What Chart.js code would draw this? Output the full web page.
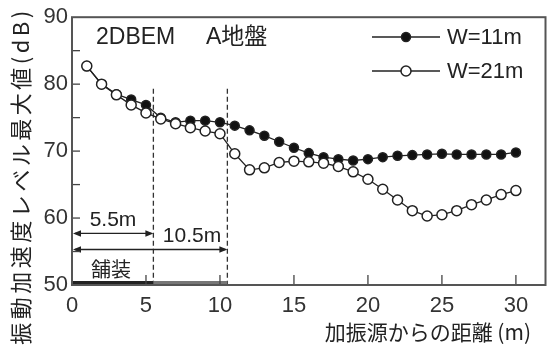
<!DOCTYPE html>
<html><head><meta charset="utf-8">
<script src="https://cdn.jsdelivr.net/npm/chart.js@4/dist/chart.umd.min.js"></script>
<style>html,body{margin:0;padding:0;background:#fff}canvas{display:block}</style>
</head><body>
<canvas id="c" width="552" height="346"></canvas>
<script>
const distances = [1,2,3,4,5,6,7,8,9,10,11,12,13,14,15,16,17,18,19,20,21,22,23,24,25,26,27,28,29,30];
const w11 = [82.7,80.0,78.5,77.7,76.9,75.0,74.3,74.55,74.55,74.3,73.8,73.1,72.3,71.4,70.5,69.7,69.1,68.8,68.6,68.8,69.1,69.3,69.4,69.5,69.6,69.5,69.5,69.5,69.5,69.8];
const w21 = [82.7,80.0,78.4,76.9,75.7,74.8,74.1,73.5,73.0,72.6,69.6,67.2,67.5,68.3,68.5,68.4,68.2,67.7,66.9,65.8,64.3,62.7,61.1,60.3,60.5,61.1,62.0,62.7,63.5,64.1];
const seriesNames = ['W=11m','W=21m'];
const xTickValues = [0,5,10,15,20,25,30];
const yTickValues = [50,60,70,80,90];
const boundaries = [5.5, 10.5];
const yTitle = '振動加速度レベル最大値(dB)';
const xTitle = '加振源からの距離 (m)';

const INK = '#222';
const LAT = '"Liberation Sans", Arial, sans-serif';
const CJK = '"Liberation Sans", "Noto Sans CJK JP", sans-serif';

function arrow(ctx, x1, x2, y){
  ctx.beginPath(); ctx.moveTo(x1+2, y); ctx.lineTo(x2-2, y); ctx.stroke();
  const L = 8, H = 3.2;
  ctx.beginPath(); ctx.moveTo(x1, y); ctx.lineTo(x1+L, y-H); ctx.lineTo(x1+L, y+H); ctx.closePath(); ctx.fill();
  ctx.beginPath(); ctx.moveTo(x2, y); ctx.lineTo(x2-L, y-H); ctx.lineTo(x2-L, y+H); ctx.closePath(); ctx.fill();
}

const decor = {
  id: 'decor',
  beforeDatasetsDraw(chart){
    const {ctx, chartArea: a, scales: {x, y}} = chart;
    ctx.save();
    // dashed boundaries
    ctx.strokeStyle = '#333'; ctx.lineWidth = 1.3; ctx.setLineDash([5,3]);
    boundaries.forEach(b => {
      ctx.beginPath(); ctx.moveTo(x.getPixelForValue(b), y.getPixelForValue(79.3));
      ctx.lineTo(x.getPixelForValue(b), a.bottom); ctx.stroke();
    });
    ctx.setLineDash([]);
    // arrows
    ctx.strokeStyle = INK; ctx.fillStyle = INK; ctx.lineWidth = 1.3;
    arrow(ctx, x.getPixelForValue(0)+1, x.getPixelForValue(boundaries[0]), y.getPixelForValue(57.7));
    arrow(ctx, x.getPixelForValue(0)+1, x.getPixelForValue(boundaries[1]), y.getPixelForValue(55.3));
    // pavement bar
    ctx.fillStyle = '#222';
    ctx.fillRect(x.getPixelForValue(0), a.bottom-4, x.getPixelForValue(boundaries[0])-x.getPixelForValue(0), 4);
    ctx.fillStyle = '#777';
    ctx.fillRect(x.getPixelForValue(boundaries[0]), a.bottom-4, x.getPixelForValue(boundaries[1])-x.getPixelForValue(boundaries[0]), 4);
    // texts
    ctx.fillStyle = INK; ctx.textBaseline = 'middle'; ctx.textAlign = 'center';
    ctx.font = '21px ' + LAT;
    ctx.fillText('5.5m', 113, 220);
    ctx.fillText('10.5m', 192, 236);
    ctx.font = '20px "Noto Sans CJK JP", sans-serif';
    ctx.fillText('舗装', 111, 269);
    ctx.textAlign = 'left';
    ctx.font = '23px ' + LAT;
    ctx.fillText('2DBEM', 96, 38);
    ctx.font = '23px ' + CJK;
    ctx.fillText('A地盤', 206, 38);
    ctx.restore();
  },
  afterDraw(chart){
    const {ctx, chartArea: a, scales: {x, y}} = chart;
    ctx.save();
    // inward ticks
    ctx.strokeStyle = '#444'; ctx.lineWidth = 1.3;
    for (let v = 55; v < 90; v += 5){
      const py = y.getPixelForValue(v);
      ctx.beginPath(); ctx.moveTo(a.left, py); ctx.lineTo(a.left+8, py); ctx.stroke();
    }
    xTickValues.forEach(v => {
      if (v === 0) return;
      const px = x.getPixelForValue(v);
      ctx.beginPath(); ctx.moveTo(px, a.bottom); ctx.lineTo(px, a.bottom-10); ctx.stroke();
    });
    // frame
    ctx.strokeStyle = '#555'; ctx.lineWidth = 2;
    ctx.strokeRect(a.left, a.top, a.right-a.left, a.bottom-a.top);
    // legend
    ctx.lineWidth = 1.3; ctx.strokeStyle = INK;
    const leg = [[37, '#111', 4.5], [71, '#fff', 5]];
    leg.forEach((l, i) => {
      ctx.beginPath(); ctx.moveTo(372, l[0]); ctx.lineTo(440, l[0]); ctx.stroke();
      ctx.beginPath(); ctx.arc(406, l[0], l[2], 0, Math.PI*2); ctx.fillStyle = l[1]; ctx.fill();
      ctx.lineWidth = 1.5; ctx.strokeStyle = '#222'; ctx.stroke(); ctx.lineWidth = 1.3;
      ctx.fillStyle = INK; ctx.font = '22px ' + LAT; ctx.textAlign = 'left'; ctx.textBaseline = 'middle';
      ctx.fillText(seriesNames[i], 447, l[0]+1);
    });
    // y title
    ctx.save();
    ctx.translate(21, 176); ctx.rotate(-Math.PI/2);
    ctx.font = '22px "Noto Sans CJK JP", sans-serif';
    ctx.letterSpacing = '3.5px';
    ctx.textAlign = 'center'; ctx.textBaseline = 'middle'; ctx.fillStyle = INK;
    ctx.fillText(yTitle, 0, 0);
    ctx.restore();
    // x title
    ctx.font = '21px "Noto Sans CJK JP", sans-serif';
    ctx.textAlign = 'right'; ctx.textBaseline = 'middle'; ctx.fillStyle = INK;
    ctx.fillText(xTitle, 531, 332);
    ctx.restore();
  }
};

new Chart(document.getElementById('c'), {
  type: 'line',
  data: {
    datasets: [
      { label: seriesNames[0], data: distances.map((d,i)=>({x:d, y:w11[i]})), order: 2,
        borderColor: '#222', borderWidth: 1.3, backgroundColor: '#111',
        pointRadius: 4.5, pointBorderWidth: 1.5, pointBorderColor: '#222', pointBackgroundColor: '#111' },
      { label: seriesNames[1], data: distances.map((d,i)=>({x:d, y:w21[i]})), order: 1,
        borderColor: '#222', borderWidth: 1.3, backgroundColor: '#fff',
        pointRadius: 5, pointBorderWidth: 1.5, pointBorderColor: '#222', pointBackgroundColor: '#fff' }
    ]
  },
  options: {
    responsive: false, animation: false, events: [],
    layout: { padding: { top: 15, right: 3, left: 0, bottom: 0 } },
    plugins: { legend: { display: false }, tooltip: { enabled: false } },
    scales: {
      x: {
        type: 'linear', min: 0, max: 32,
        grid: { display: false, drawTicks: false }, border: { display: false },
        afterBuildTicks: s => { s.ticks = xTickValues.map(v => ({value: v})); },
        afterFit: s => { s.height = 61; },
        ticks: { padding: 8, color: '#333', font: { size: 22, family: LAT }, maxRotation: 0 }
      },
      y: {
        min: 50, max: 90,
        grid: { display: false, drawTicks: false }, border: { display: false },
        afterBuildTicks: s => { s.ticks = yTickValues.map(v => ({value: v})); },
        afterFit: s => { s.width = 72; },
        ticks: { padding: 4, color: '#333', font: { size: 22, family: LAT } }
      }
    }
  },
  plugins: [decor]
});
</script>
</body></html>
